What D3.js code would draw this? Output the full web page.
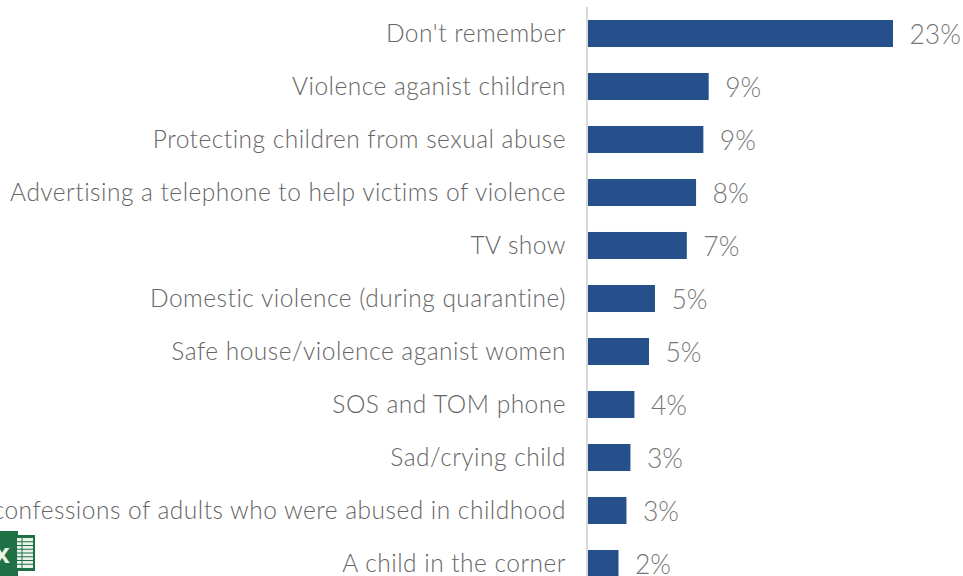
<!DOCTYPE html>
<html><head><meta charset="utf-8">
<script src="https://cdn.jsdelivr.net/npm/d3@7/dist/d3.min.js"></script>
<style>html,body{margin:0;padding:0;background:#fff;overflow:hidden}svg{display:block}</style>
</head><body><div id="chart"></div>
<script>
const categories = ["Don't remember","Violence aganist children","Protecting children from sexual abuse","Advertising a telephone to help victims of violence","TV show","Domestic violence (during quarantine)","Safe house/violence aganist women","SOS and TOM phone","Sad/crying child","confessions of adults who were abused in childhood","A child in the corner"];
const shares = [23, 9.1, 8.7, 8.15, 7.45, 5.05, 4.6, 3.5, 3.2, 2.9, 2.3];
const W = 963, H = 576, FONT = "Lato, 'Open Sans', sans-serif";

const svg = d3.select("#chart").append("svg").attr("width", W).attr("height", H);
const x = d3.scaleLinear().domain([0, 23]).range([588, 893]);
const y = d3.scaleBand().domain(categories).range([7, 590]).paddingInner(0.49).paddingOuter(0.245);
const pct = d3.format(".0f");

svg.append("g").selectAll("rect").data(categories).join("rect")
  .attr("x", x(0)).attr("y", d => y(d))
  .attr("width", (d, i) => x(shares[i]) - x(0)).attr("height", y.bandwidth())
  .attr("fill", "#26508c");

const axis = svg.append("g").attr("transform", `translate(${x(0) - 2},1)`)
  .call(d3.axisLeft(y).tickSize(0).tickPadding(20));
axis.select(".domain").remove();
axis.selectAll("text").attr("font-family", FONT).attr("font-size", 24.5).attr("font-weight", 300).attr("fill", "#666666").attr("letter-spacing", "0.49");
svg.append("line").attr("x1", x(0) - 1).attr("x2", x(0) - 1).attr("y1", 7).attr("y2", H)
  .attr("stroke", "#d9d9d9").attr("stroke-width", 2);

svg.append("g").selectAll("text").data(categories).join("text")
  .attr("x", (d, i) => x(shares[i]) + 16.5).attr("y", d => y(d) + y.bandwidth() / 2 + 1)
  .attr("dy", "0.35em").attr("font-family", FONT).attr("font-size", 26.5).attr("font-weight", 300).attr("fill", "#777777")
  .text((d, i) => pct(shares[i]) + "%");

// spreadsheet badge in the lower-left corner
const badge = svg.append("g");
badge.append("rect").attr("x", 0).attr("y", 535).attr("width", 35).attr("height", 36).attr("fill", "#1e7145");
badge.append("rect").attr("x", 0).attr("y", 531).attr("width", 18).attr("height", 45).attr("fill", "#1e7145");
badge.append("text").attr("x", 2).attr("y", 563).attr("text-anchor", "middle").attr("font-family", "'Liberation Sans', sans-serif").attr("font-weight", 700).attr("font-size", 28).attr("fill", "#eef6f0").text("x");
badge.append("rect").attr("x", 17).attr("y", 538).attr("width", 16).attr("height", 30).attr("fill", "#e8f2ea");
badge.selectAll("line.row").data(d3.range(1, 8)).join("line").attr("class", "row")
  .attr("x1", 17).attr("x2", 33).attr("y1", d => 538 + d * 3.75).attr("y2", d => 538 + d * 3.75).attr("stroke", "#1e7145").attr("stroke-width", 1);
badge.append("line").attr("x1", 22).attr("x2", 22).attr("y1", 538).attr("y2", 568).attr("stroke", "#1e7145").attr("stroke-width", 1);
</script></body></html>
